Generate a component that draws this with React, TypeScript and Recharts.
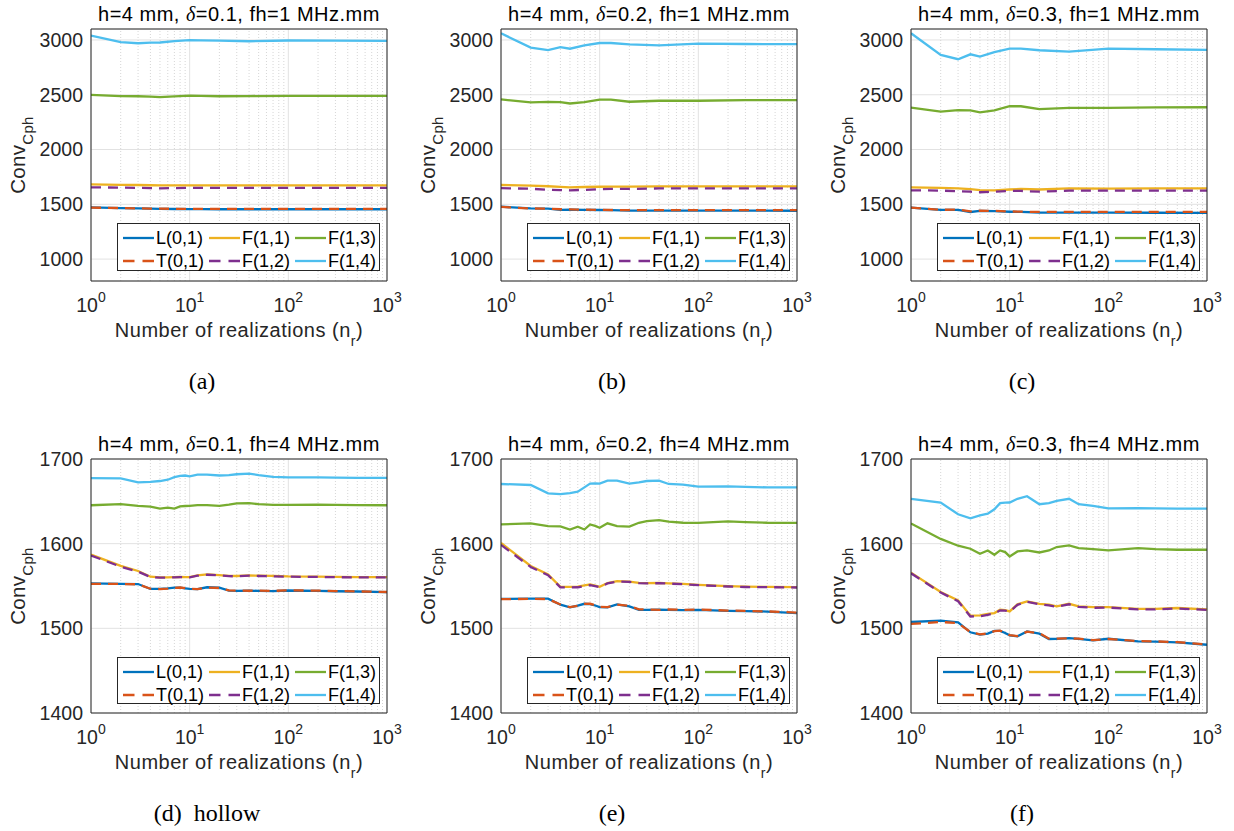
import React from "react";
import { CartesianGrid, Legend, Line, LineChart, ReferenceLine, XAxis, YAxis } from "recharts";

const FONT = '"Liberation Sans", Arial, Helvetica, sans-serif';
const SERIF = '"Liberation Serif", "Times New Roman", serif';
const INK = "#262626";

// realizations sampled along the log axis
const X_TOP = [1, 2, 3, 4, 5, 7, 10, 13, 20, 40, 100, 300, 1000];
const X_BOTTOM = [1, 2, 3, 4, 5, 6, 7, 8, 9, 10, 12, 15, 20, 25, 30, 40, 50, 70, 100, 200, 300, 500, 1000];

const MAJOR_X = [1, 10, 100, 1000];
const MINOR_X = [2, 3, 4, 5, 6, 7, 8, 9, 20, 30, 40, 50, 60, 70, 80, 90, 200, 300, 400, 500, 600, 700, 800, 900];
const Y_TICKS_TOP = [1000, 1500, 2000, 2500, 3000];
const Y_TICKS_BOTTOM = [1400, 1500, 1600, 1700];

// (a) delta=0.1, fh=1
const A_L01 = [1472, 1465, 1462, 1460, 1458, 1457, 1456, 1456, 1455, 1455, 1455, 1455, 1455];
const A_T01 = [1470, 1466, 1463, 1461, 1460, 1459, 1459, 1458, 1458, 1458, 1458, 1458, 1458];
const A_F11 = [1682, 1678, 1676, 1674, 1672, 1672, 1673, 1673, 1672, 1672, 1672, 1672, 1672];
const A_F12 = [1655, 1652, 1650, 1648, 1646, 1648, 1650, 1650, 1650, 1650, 1650, 1650, 1650];
const A_F13 = [2498, 2488, 2486, 2483, 2478, 2485, 2492, 2490, 2486, 2488, 2490, 2490, 2490];
const A_F14 = [3040, 2980, 2970, 2975, 2977, 2990, 2998, 2996, 2993, 2988, 2995, 2993, 2992];

// (b) delta=0.2, fh=1
const B_L01 = [1478, 1462, 1460, 1450, 1452, 1450, 1448, 1447, 1443, 1443, 1442, 1442, 1441];
const B_T01 = [1476, 1462, 1460, 1455, 1453, 1451, 1449, 1448, 1447, 1446, 1446, 1446, 1446];
const B_F11 = [1676, 1670, 1665, 1660, 1655, 1658, 1660, 1661, 1661, 1663, 1663, 1664, 1664];
const B_F12 = [1647, 1642, 1633, 1630, 1628, 1632, 1638, 1640, 1640, 1645, 1645, 1645, 1645];
const B_F13 = [2457, 2431, 2435, 2433, 2420, 2432, 2455, 2455, 2436, 2445, 2445, 2450, 2450];
const B_F14 = [3061, 2930, 2908, 2935, 2920, 2950, 2972, 2972, 2960, 2950, 2966, 2963, 2962];

// (c) delta=0.3, fh=1
const C_L01 = [1470, 1450, 1450, 1430, 1440, 1437, 1432, 1430, 1425, 1424, 1424, 1423, 1422];
const C_T01 = [1470, 1450, 1452, 1435, 1442, 1440, 1435, 1433, 1430, 1430, 1430, 1430, 1430];
const C_F11 = [1655, 1650, 1645, 1638, 1630, 1628, 1635, 1640, 1635, 1645, 1643, 1645, 1645];
const C_F12 = [1628, 1625, 1620, 1615, 1610, 1615, 1622, 1622, 1615, 1625, 1625, 1625, 1625];
const C_F13 = [2383, 2346, 2360, 2358, 2340, 2358, 2395, 2395, 2368, 2380, 2380, 2385, 2386];
const C_F14 = [3061, 2863, 2824, 2869, 2848, 2888, 2921, 2921, 2906, 2894, 2921, 2915, 2909];

// (d) delta=0.1, fh=4
const D_L01 = [1553, 1552.5, 1552.3, 1546.5, 1546.5, 1547.2, 1548, 1548, 1547.3, 1546.6, 1546.2, 1548.5, 1548, 1544.5, 1544.3, 1544.5, 1544.3, 1544, 1544.7, 1544.3, 1543.8, 1543.5, 1542.7];
const D_T01 = [1552.6, 1552.4, 1552, 1546.8, 1546.4, 1547, 1547.8, 1548.2, 1547.5, 1546.8, 1546.4, 1548.3, 1547.6, 1544.8, 1544.6, 1544.4, 1544.6, 1544.2, 1544.9, 1544.5, 1544, 1543.6, 1542.9];
const D_F11 = [1587, 1573.7, 1567.7, 1561, 1560.3, 1560.2, 1560.5, 1560.8, 1560.6, 1560.4, 1562.5, 1563.7, 1562.8, 1562, 1561.8, 1562.5, 1562.2, 1561.9, 1561.3, 1561, 1560.7, 1560.6, 1560.4];
const D_F12 = [1586, 1572.8, 1567, 1560.6, 1559.8, 1559.9, 1560.2, 1560.5, 1560.3, 1560.1, 1562.2, 1563.3, 1562.5, 1561.6, 1561.4, 1562.2, 1561.8, 1561.5, 1561, 1560.7, 1560.4, 1560.2, 1560.1];
const D_F13 = [1645.4, 1646.6, 1644.6, 1643.8, 1641.4, 1642.6, 1641.4, 1644, 1644.5, 1644.6, 1645.5, 1645.6, 1644.6, 1646, 1647.5, 1647.8, 1646.6, 1645.8, 1645.7, 1646.2, 1645.9, 1645.6, 1645.4];
const D_F14 = [1677.5, 1677, 1672.5, 1673, 1674, 1675.5, 1678.5, 1680, 1680.5, 1679.5, 1681.5, 1681.5, 1680.5, 1681, 1682, 1682.8, 1681, 1679, 1678.3, 1678.3, 1678, 1677.8, 1677.6];

// (e) delta=0.2, fh=4
const E_L01 = [1534.7, 1535, 1535, 1527.9, 1524.7, 1526.7, 1529, 1528.7, 1527, 1525, 1524.8, 1528.3, 1526, 1521.9, 1521.8, 1522, 1521.9, 1521.5, 1521.9, 1520.7, 1520.3, 1519.8, 1518];
const E_T01 = [1534.5, 1534.8, 1534.6, 1528.2, 1525, 1526.5, 1528.8, 1529, 1527.2, 1525.3, 1525, 1528, 1526.5, 1522.4, 1522.2, 1521.8, 1522.3, 1521.8, 1522.2, 1521, 1520.6, 1520, 1518.5];
const E_F11 = [1600.8, 1573.7, 1563.7, 1549, 1549, 1549.2, 1550.6, 1551.8, 1550.4, 1549, 1553.5, 1555.8, 1555.2, 1553.8, 1553.4, 1553.8, 1553.2, 1552.6, 1551.4, 1549.8, 1549.2, 1549, 1548.6];
const E_F12 = [1598.6, 1572.5, 1562.8, 1548.4, 1548.2, 1548.5, 1550, 1551, 1549.8, 1548.5, 1553, 1555.2, 1554.8, 1553.4, 1553, 1553.4, 1552.8, 1552.2, 1551, 1549.4, 1548.8, 1548.6, 1548.2];
const E_F13 = [1622.7, 1623.9, 1620.7, 1620.5, 1616.7, 1620, 1616.7, 1622.7, 1621, 1618.7, 1624, 1620.7, 1620.2, 1624.7, 1626.7, 1627.9, 1626, 1624.7, 1624.6, 1626.3, 1625.5, 1624.7, 1624.6];
const E_F14 = [1670.5, 1669.3, 1659.4, 1658.6, 1659.8, 1661.4, 1666.5, 1671, 1671.3, 1671, 1674.5, 1674.5, 1671, 1672.5, 1674, 1674.5, 1670.5, 1669.7, 1667.3, 1667.7, 1667, 1666.5, 1666.5];

// (f) delta=0.3, fh=4
const F_L01 = [1507.5, 1509, 1507, 1495.3, 1492.5, 1493.7, 1497, 1497, 1494.5, 1491.7, 1490.5, 1496.4, 1493.7, 1487.4, 1487.6, 1488.5, 1487.5, 1485.8, 1487.7, 1484.6, 1484.3, 1483.4, 1480.6];
const F_T01 = [1505.2, 1507.5, 1506.2, 1495.6, 1492.8, 1493.9, 1496.6, 1497.2, 1494.8, 1492, 1490.8, 1496, 1494.2, 1487.8, 1487.9, 1488.2, 1487.8, 1486.1, 1487.4, 1484.9, 1484.6, 1483.7, 1481];
const F_F11 = [1565.7, 1543, 1533, 1515, 1515.3, 1517, 1518, 1522, 1521.5, 1520, 1528.3, 1531.9, 1529, 1527.9, 1526, 1529, 1526, 1525, 1525, 1523, 1523, 1524, 1522.3];
const F_F12 = [1565, 1542.3, 1532, 1514, 1514.2, 1516, 1517.5, 1521.3, 1521, 1519.5, 1527.8, 1531.3, 1528.4, 1527.2, 1525.5, 1528.4, 1525.4, 1524.3, 1524.5, 1522.5, 1522.4, 1523.5, 1521.8];
const F_F13 = [1623.9, 1605.6, 1597.6, 1594, 1588, 1592, 1586.9, 1592, 1590, 1584.9, 1590.8, 1592, 1589.6, 1592, 1596, 1598, 1594.8, 1593.6, 1592, 1594.8, 1593.5, 1592.8, 1592.8];
const F_F14 = [1653, 1648.6, 1634.7, 1629.9, 1633.5, 1635.5, 1640.6, 1647.8, 1648.5, 1648.6, 1653, 1656, 1646.6, 1648, 1650.6, 1653, 1646.6, 1644.6, 1641.8, 1642, 1641.6, 1641.5, 1641.4];

const SERIES = [
  { key: "L01", name: "L(0,1)", color: "#0072BD", dashed: false },
  { key: "T01", name: "T(0,1)", color: "#D95319", dashed: true },
  { key: "F11", name: "F(1,1)", color: "#EDB120", dashed: false },
  { key: "F12", name: "F(1,2)", color: "#7E2F8E", dashed: true },
  { key: "F13", name: "F(1,3)", color: "#77AC30", dashed: false },
  { key: "F14", name: "F(1,4)", color: "#4DBEEE", dashed: false },
];

const PANELS = [
  { caption: "(a)", delta: "0.1", fh: "1", row: 0, col: 0, xs: X_TOP, s: { L01: A_L01, T01: A_T01, F11: A_F11, F12: A_F12, F13: A_F13, F14: A_F14 } },
  { caption: "(b)", delta: "0.2", fh: "1", row: 0, col: 1, xs: X_TOP, s: { L01: B_L01, T01: B_T01, F11: B_F11, F12: B_F12, F13: B_F13, F14: B_F14 } },
  { caption: "(c)", delta: "0.3", fh: "1", row: 0, col: 2, xs: X_TOP, s: { L01: C_L01, T01: C_T01, F11: C_F11, F12: C_F12, F13: C_F13, F14: C_F14 } },
  { caption: "(d)", extra: "hollow", delta: "0.1", fh: "4", row: 1, col: 0, xs: X_BOTTOM, s: { L01: D_L01, T01: D_T01, F11: D_F11, F12: D_F12, F13: D_F13, F14: D_F14 } },
  { caption: "(e)", delta: "0.2", fh: "4", row: 1, col: 1, xs: X_BOTTOM, s: { L01: E_L01, T01: E_T01, F11: E_F11, F12: E_F12, F13: E_F13, F14: E_F14 } },
  { caption: "(f)", delta: "0.3", fh: "4", row: 1, col: 2, xs: X_BOTTOM, s: { L01: F_L01, T01: F_T01, F11: F_F11, F12: F_F12, F13: F_F13, F14: F_F14 } },
];

const PLOT_LEFT = [91, 501, 911];
const PLOT_TOP = [29, 459];
const PLOT_H = [252, 254];
const PLOT_W = 296;
const Y_AXIS_W = 58;
const RIGHT_PAD = 24;
const TOP_PAD = 14;

function toRows(xs: number[], s: Record<string, number[]>) {
  return xs.map((n, i) => {
    const row: Record<string, number> = { n };
    for (const k of Object.keys(s)) row[k] = s[k][i];
    return row;
  });
}

function PowTick(props: any) {
  const { x, y, payload } = props;
  const e = Math.round(Math.log10(payload.value));
  return (
    <text x={x} y={y + 23} textAnchor="middle" fill={INK} fontFamily={FONT} fontSize={19.5}>
      10
      <tspan dy={-10} fontSize={14}>
        {e}
      </tspan>
    </text>
  );
}

const LEGEND_COLS = [
  ["L01", "T01"],
  ["F11", "F12"],
  ["F13", "F14"],
];

function LegendBox({ height }: { height: number }) {
  const colLeft = [6, 92, 178];
  const rowMid = [14, 36.5];
  return (
    <div
      style={{
        position: "relative",
        width: 263,
        height,
        boxSizing: "border-box",
        border: `1px solid ${INK}`,
        background: "#fff",
        fontFamily: FONT,
        fontSize: 18,
        color: "#000",
      }}
    >
      {LEGEND_COLS.map((col, ci) =>
        col.map((key, ri) => {
          const s = SERIES.find((d) => d.key === key)!;
          return (
            <div
              key={key}
              style={{
                position: "absolute",
                left: colLeft[ci] - 1,
                top: rowMid[ri] - 11,
                height: 22,
                display: "flex",
                alignItems: "center",
                whiteSpace: "nowrap",
                lineHeight: 1,
              }}
            >
              <svg width={31} height={4} style={{ display: "block" }}>
                <line
                  x1={0}
                  y1={2}
                  x2={31}
                  y2={2}
                  stroke={s.color}
                  strokeWidth={2.3}
                  strokeDasharray={s.dashed ? "11.5 8" : undefined}
                />
              </svg>
              <span style={{ marginLeft: 2 }}>{s.name}</span>
            </div>
          );
        })
      )}
    </div>
  );
}

function Panel({ p }: { p: (typeof PANELS)[number] }) {
  const top = p.row === 0;
  const plotLeft = PLOT_LEFT[p.col];
  const plotTop = PLOT_TOP[p.row];
  const plotH = PLOT_H[p.row];
  const yDomain = top ? [800, 3100] : [1400, 1700];
  const yTicks = top ? Y_TICKS_TOP : Y_TICKS_BOTTOM;
  const data = toRows(p.xs, p.s);
  const legendTop = (top ? 194 : 198) + TOP_PAD;
  const legendH = top ? 48 : 47;

  const xCommon = {
    type: "number",
    scale: "log",
    domain: [1, 1000],
    allowDataOverflow: true,
    dataKey: "n",
    interval: 0,
  } as const;
  const yCommon = {
    type: "number",
    domain: yDomain,
    allowDataOverflow: true,
    interval: 0,
    ticks: yTicks,
  } as const;

  return (
    <div style={{ position: "absolute", left: plotLeft - Y_AXIS_W, top: plotTop - TOP_PAD }}>
      <LineChart
        width={Y_AXIS_W + PLOT_W + RIGHT_PAD}
        height={plotH + TOP_PAD + 40}
        data={data}
        margin={{ top: TOP_PAD, right: RIGHT_PAD, bottom: 0, left: 0 }}
      >
        <CartesianGrid xAxisId="main" yAxisId="main" stroke="#e2e2e2" />
        {MINOR_X.map((v) => (
          <ReferenceLine
            key={v}
            x={v}
            xAxisId="main"
            yAxisId="main"
            stroke="#d6d6d6"
            strokeDasharray="1 2"
          />
        ))}
        <XAxis
          xAxisId="main"
          {...xCommon}
          ticks={MAJOR_X}
          height={40}
          tick={(props: any) => <PowTick {...props} />}
          tickLine={false}
          axisLine={{ stroke: INK }}
        />
        <XAxis xAxisId="bmaj" {...xCommon} mirror ticks={MAJOR_X} tick={false} tickSize={5} axisLine={false} tickLine={{ stroke: INK }} />
        <XAxis xAxisId="bmin" {...xCommon} mirror ticks={MINOR_X} tick={false} tickSize={3} axisLine={false} tickLine={{ stroke: INK }} />
        <XAxis xAxisId="tmaj" {...xCommon} orientation="top" mirror ticks={MAJOR_X} tick={false} tickSize={5} axisLine={{ stroke: INK }} tickLine={{ stroke: INK }} />
        <XAxis xAxisId="tmin" {...xCommon} orientation="top" mirror ticks={MINOR_X} tick={false} tickSize={3} axisLine={false} tickLine={{ stroke: INK }} />
        <YAxis
          yAxisId="main"
          {...yCommon}
          width={Y_AXIS_W}
          tickLine={false}
          axisLine={{ stroke: INK }}
          tick={{ fill: INK, fontSize: 19.5, fontFamily: FONT }}
        />
        <YAxis yAxisId="lm" {...yCommon} mirror tick={false} tickSize={5} axisLine={false} tickLine={{ stroke: INK }} />
        <YAxis yAxisId="rm" {...yCommon} orientation="right" mirror tick={false} tickSize={5} axisLine={{ stroke: INK }} tickLine={{ stroke: INK }} />
        {SERIES.map((s) => (
          <Line
            key={s.key}
            xAxisId="main"
            yAxisId="main"
            type="linear"
            dataKey={s.key}
            stroke={s.color}
            strokeWidth={2.3}
            strokeDasharray={s.dashed ? "10 7" : undefined}
            dot={false}
            activeDot={false}
            isAnimationActive={false}
          />
        ))}
        <Legend
          layout="horizontal"
          verticalAlign="middle"
          align="center"
          content={() => <LegendBox height={legendH} />}
          wrapperStyle={{ left: 84, top: legendTop, width: 263, height: legendH }}
        />
      </LineChart>
    </div>
  );
}

function PanelText({ p }: { p: (typeof PANELS)[number] }) {
  const plotLeft = PLOT_LEFT[p.col];
  const plotTop = PLOT_TOP[p.row];
  const plotH = PLOT_H[p.row];
  const cx = plotLeft + PLOT_W / 2;
  const bottom = plotTop + plotH;
  return (
    <g>
      <text x={cx} y={plotTop - 8} textAnchor="middle" fontFamily={FONT} fontSize={20} letterSpacing={0.5} fill="#000">
        h=4 mm,{" "}
        <tspan fontFamily={SERIF} fontStyle="italic">
          δ
        </tspan>
        ={p.delta}, fh={p.fh} MHz.mm
      </text>
      <text
        transform={`translate(${plotLeft - 66}, ${plotTop + plotH / 2}) rotate(-90)`}
        textAnchor="middle"
        fontFamily={FONT}
        fontSize={20.5}
        letterSpacing={0.3}
        fill={INK}
      >
        Conv
        <tspan fontSize={15} dy={8}>
          Cph
        </tspan>
      </text>
      <text x={cx} y={bottom + 56} textAnchor="middle" fontFamily={FONT} fontSize={20} letterSpacing={0.5} fill={INK}>
        Number of realizations (n
        <tspan fontSize={14} dy={9}>
          r
        </tspan>
        <tspan dy={-9}>)</tspan>
      </text>
      <text x={plotLeft + (p.extra ? 116 : 111)} y={bottom + 108} textAnchor="middle" fontFamily={SERIF} fontSize={24} fill="#000">
        {p.caption}
        {p.extra ? <tspan dx={12}>{p.extra}</tspan> : null}
      </text>
    </g>
  );
}

export default function App() {
  return (
    <div style={{ position: "absolute", left: 0, top: 0, width: 1234, height: 831, background: "#fff", overflow: "hidden" }}>
      {PANELS.map((p) => (
        <Panel key={p.caption} p={p} />
      ))}
      <svg width={1234} height={831} style={{ position: "absolute", left: 0, top: 0, pointerEvents: "none" }}>
        {PANELS.map((p) => (
          <PanelText key={p.caption} p={p} />
        ))}
      </svg>
    </div>
  );
}
